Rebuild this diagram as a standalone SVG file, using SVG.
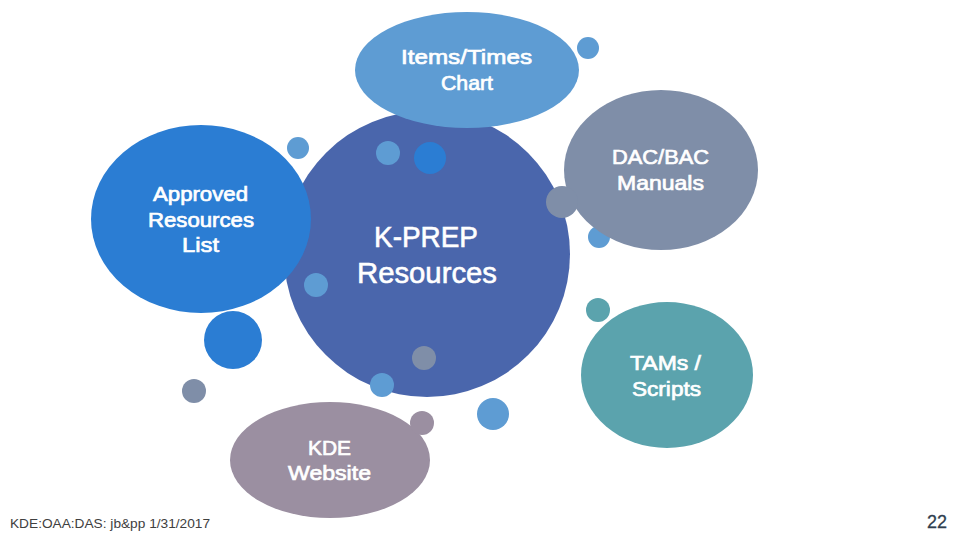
<svg xmlns="http://www.w3.org/2000/svg" width="960" height="540" viewBox="0 0 960 540">
<style>
.lbl{font-family:"Liberation Sans",Arial,sans-serif;font-size:21px;fill:#ffffff;stroke:#ffffff;stroke-width:0.7px;text-anchor:middle}
.big{font-family:"Liberation Sans",Arial,sans-serif;font-size:30px;fill:#ffffff;stroke:#ffffff;stroke-width:0.6px;text-anchor:middle}
.ft{font-family:"Liberation Sans",Arial,sans-serif;font-size:12.5px;fill:#404040}
.pg{font-family:"Liberation Sans",Arial,sans-serif;font-size:18px;fill:#2f3e4e;stroke:#2f3e4e;stroke-width:0.3px}
.c-main{fill:#4a66ac}
.c-lb{fill:#5e9cd3}
.c-b{fill:#2b7dd3}
.c-g{fill:#7f8ea8}
.c-t{fill:#5ba3ad}
.c-p{fill:#9b8fa1}
</style>
<rect width="960" height="540" fill="#ffffff"/>
<g id="connectors">
<circle class="c-lb" cx="588" cy="48" r="11"/>
<circle class="c-lb" cx="298" cy="148" r="11"/>
<circle class="c-b" cx="233" cy="340" r="29"/>
<circle class="c-g" cx="194" cy="391" r="12"/>
<circle class="c-lb" cx="599" cy="237" r="11"/>
<circle class="c-t" cx="598" cy="310" r="12"/>
<circle class="c-lb" cx="493" cy="414" r="16"/>
</g>
<g id="kprep">
<circle class="c-main" cx="427" cy="254" r="143"/>
<circle class="c-lb" cx="388" cy="153" r="12"/>
<circle class="c-b" cx="430" cy="158" r="16"/>
<circle class="c-lb" cx="316" cy="285" r="12"/>
<circle class="c-g" cx="424" cy="358" r="12"/>
<circle class="c-lb" cx="382" cy="385" r="12"/>
<text class="big" x="426" y="247" textLength="104" lengthAdjust="spacingAndGlyphs">K-PREP</text>
<text class="big" x="427" y="283" textLength="140" lengthAdjust="spacingAndGlyphs">Resources</text>
</g>
<g id="items">
<ellipse class="c-lb" cx="467" cy="70" rx="112" ry="58"/>
<text class="lbl" x="466.5" y="64" textLength="131" lengthAdjust="spacingAndGlyphs">Items/Times</text>
<text class="lbl" x="467" y="90" textLength="52" lengthAdjust="spacingAndGlyphs">Chart</text>
</g>
<g id="approved">
<ellipse class="c-b" cx="201" cy="219" rx="110" ry="94"/>
<text class="lbl" x="200.5" y="201" textLength="95" lengthAdjust="spacingAndGlyphs">Approved</text>
<text class="lbl" x="201" y="227" textLength="106" lengthAdjust="spacingAndGlyphs">Resources</text>
<text class="lbl" x="200.5" y="252" textLength="37" lengthAdjust="spacingAndGlyphs">List</text>
</g>
<g id="dac">
<ellipse class="c-g" cx="661" cy="170" rx="97" ry="80"/>
<circle class="c-g" cx="562" cy="202" r="16"/>
<text class="lbl" x="660.5" y="164" textLength="97" lengthAdjust="spacingAndGlyphs">DAC/BAC</text>
<text class="lbl" x="660.5" y="190" textLength="87" lengthAdjust="spacingAndGlyphs">Manuals</text>
</g>
<g id="tams">
<ellipse class="c-t" cx="667" cy="375" rx="86" ry="73"/>
<text class="lbl" x="665.5" y="370" textLength="71" lengthAdjust="spacingAndGlyphs">TAMs /</text>
<text class="lbl" x="666.5" y="396" textLength="69" lengthAdjust="spacingAndGlyphs">Scripts</text>
</g>
<g id="kde">
<ellipse class="c-p" cx="330" cy="460" rx="100" ry="58"/>
<circle class="c-p" cx="422" cy="423" r="12"/>
<text class="lbl" x="329.5" y="455" textLength="43" lengthAdjust="spacingAndGlyphs">KDE</text>
<text class="lbl" x="329.5" y="480" textLength="83" lengthAdjust="spacingAndGlyphs">Website</text>
</g>
<g id="footer">
<text class="ft" x="10" y="528" textLength="200" lengthAdjust="spacingAndGlyphs">KDE:OAA:DAS: jb&amp;pp 1/31/2017</text>
<text class="pg" x="927" y="528" textLength="20" lengthAdjust="spacingAndGlyphs">22</text>
</g>
</svg>
